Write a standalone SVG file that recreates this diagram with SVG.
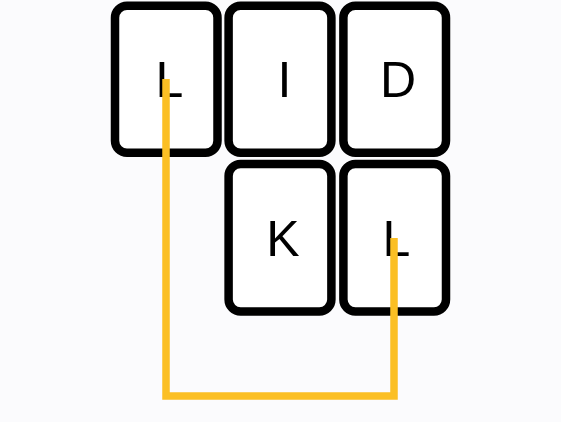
<svg xmlns="http://www.w3.org/2000/svg" width="561" height="422" viewBox="0 0 561 422">
  <style>
    .box { fill: #ffffff; stroke: #000000; stroke-width: 8.5; }
    .lbl { font-family: "Liberation Sans", Arial, sans-serif; font-size: 50px; fill: #000000; text-anchor: middle; }
    .conn { fill: none; stroke: #fbbf24; stroke-width: 7.5; stroke-linejoin: miter; }
  </style>
  <rect width="561" height="422" fill="#fbfbfd"/>
  <g id="node-L1">
    <rect class="box" x="115" y="5.7" width="102.5" height="147" rx="12" ry="12"/>
    <text class="lbl" x="169.5" y="97.3">L</text>
  </g>
  <g id="node-I">
    <rect class="box" x="228.6" y="5.7" width="102.8" height="147" rx="12" ry="12"/>
    <text class="lbl" x="284.5" y="97.3">I</text>
  </g>
  <g id="node-D">
    <rect class="box" x="343.4" y="5.7" width="102.6" height="147" rx="12" ry="12"/>
    <text class="lbl" x="398" y="97.3">D</text>
  </g>
  <g id="node-K">
    <rect class="box" x="228.6" y="164" width="102.8" height="147.5" rx="12" ry="12"/>
    <text class="lbl" x="283" y="255.7">K</text>
  </g>
  <g id="node-L2">
    <rect class="box" x="343.4" y="164" width="102.6" height="147.5" rx="12" ry="12"/>
    <text class="lbl" x="396.5" y="255.7">L</text>
  </g>
  <g id="connectors">
    <path class="conn" d="M166 79 V396 H394 V238"/>
  </g>
</svg>
